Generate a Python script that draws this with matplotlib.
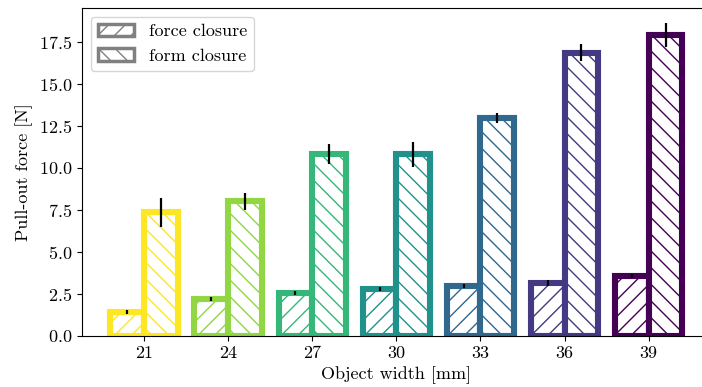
import numpy as np
import matplotlib
matplotlib.use("Agg")
import matplotlib.pyplot as plt
from matplotlib.patches import Patch

plt.rcParams['font.family'] = 'serif'
plt.rcParams['font.serif'] = ['cmr10', 'DejaVu Serif']
plt.rcParams['mathtext.fontset'] = 'cm'
plt.rcParams['axes.formatter.use_mathtext'] = True
plt.rcParams['font.size'] = 13

widths = [21, 24, 27, 30, 33, 36, 39]
force_mean = [1.43, 2.2, 2.56, 2.8, 2.96, 3.15, 3.57]
force_err = [0.1, 0.12, 0.12, 0.1, 0.12, 0.15, 0.12]
form_mean = [7.35, 8.02, 10.8, 10.8, 12.98, 16.85, 17.9]
form_err = [0.87, 0.5, 0.6, 0.75, 0.3, 0.5, 0.7]

colores = plt.cm.viridis(np.linspace(1, 0, len(widths)))
x = np.arange(len(widths))
w = 0.4

fig = plt.figure(figsize=(7.02, 3.87), dpi=100)
ax = fig.add_axes([0.1164, 0.1318, 0.8964, 0.8488])

ax.bar(x - w / 2, force_mean, w, yerr=force_err, facecolor='white',
       edgecolor=colores, linewidth=4.4, hatch='//',
       error_kw=dict(ecolor='black', elinewidth=1.6, capsize=0))
ax.bar(x + w / 2, form_mean, w, yerr=form_err, facecolor='white',
       edgecolor=colores, linewidth=4.4, hatch='\\\\',
       error_kw=dict(ecolor='black', elinewidth=1.6, capsize=0))

ax.set_xticks(x)
ax.set_xticklabels([str(v) for v in widths])
ax.set_xlabel('Object width [mm]')
ax.set_ylabel('Pull-out force [N]')

handles = [Patch(facecolor='white', edgecolor='gray', linewidth=2.5, hatch='//', label='force closure'),
           Patch(facecolor='white', edgecolor='gray', linewidth=2.5, hatch='\\\\', label='form closure')]
ax.legend(handles=handles, loc='upper left', fontsize=13)

fig.savefig('out.png', dpi=100)
